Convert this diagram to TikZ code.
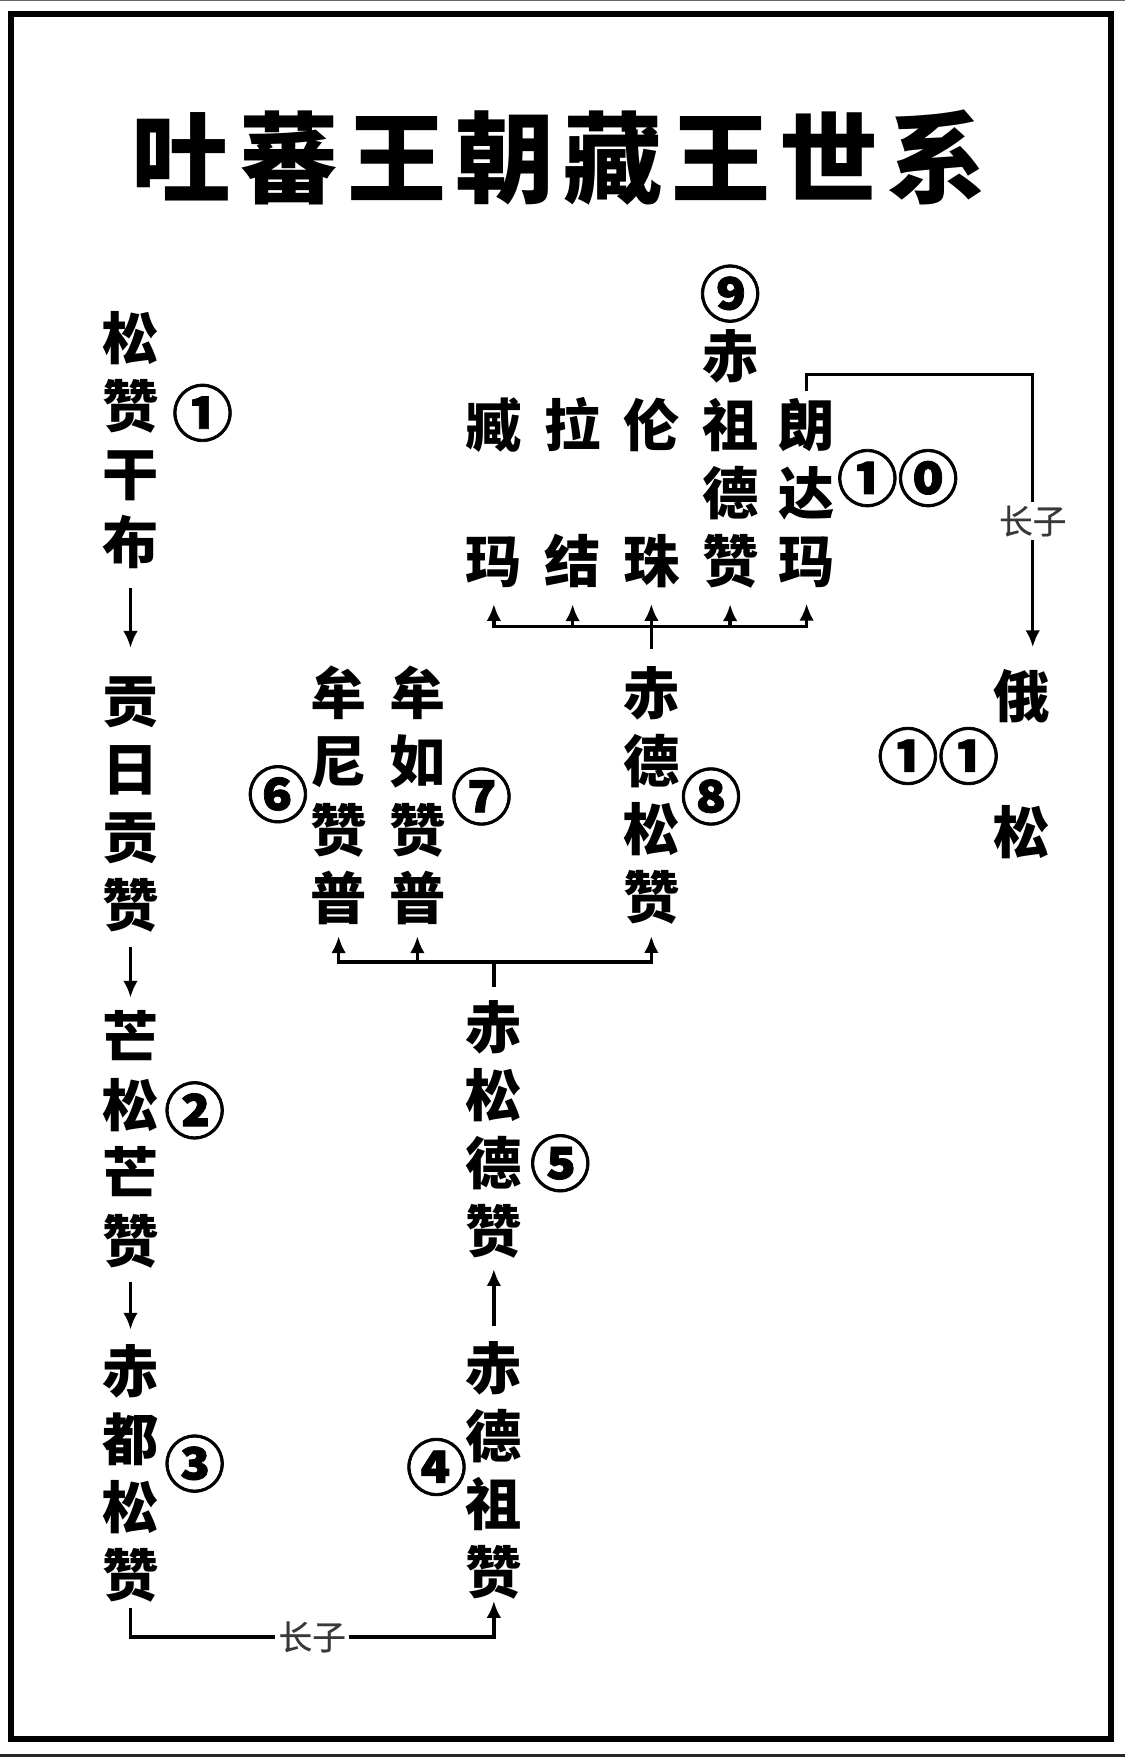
\documentclass[tikz,border=0pt]{standalone}
\usepackage{fontspec}
\usetikzlibrary{arrows.meta}
\newfontfamily\cjk{Noto Sans CJK SC}

\tikzset{
  king/.style={font=\cjk\bfseries\fontsize{25}{30.25}\selectfont, align=center, inner sep=0pt},
  ord/.style={font=\cjk\bfseries\fontsize{27}{27}\selectfont\addfontfeature{FakeBold=1.2}, inner sep=0pt},
  heir/.style={font=\cjk\fontsize{15}{16}\selectfont\addfontfeature{FakeBold=0.4}, text=black!78, fill=white, inner sep=1.5pt},
  arr/.style={-{Latex[length=7.5pt,width=6.5pt]}},
}

\begin{document}
\begin{tikzpicture}[x=0.5pt, y=-0.5pt, line width=1.45pt]
    \useasboundingbox (0,0) rectangle (1000,1561.8);
    \fill[white] (0,0) rectangle (1000,1561.8);
    \fill[black!60] (0,0) rectangle (1000,1);
    \fill[black!85] (0,1559) rectangle (1000,1561.8);
    \draw[line width=2.67pt] (10.2,12.4) rectangle (987.6,1545.8);

    \node[font=\cjk\bfseries\fontsize{44}{44}\selectfont\addfontfeature{LetterSpace=9}] (T) at (497,140) {吐蕃王朝藏王世系};

    \node[king] (K1)  at (116, 391) {松\\赞\\干\\布};
    \node[king] (K2)  at (116, 715) {贡\\日\\贡\\赞};
    \node[king] (K3)  at (116,1013) {芒\\松\\芒\\赞};
    \node[king] (K4)  at (116,1310) {赤\\都\\松\\赞};
    \node[king] (K5)  at (439,1307) {赤\\德\\祖\\赞};
    \node[king] (K6)  at (439,1004) {赤\\松\\德\\赞};
    \node[king] (K7)  at (301, 707) {牟\\尼\\赞\\普};
    \node[king] (K8)  at (371, 707) {牟\\如\\赞\\普};
    \node[king] (K9)  at (579, 707) {赤\\德\\松\\赞};
    \node[king] (K10) at (439, 438) {臧\\[30.25pt]玛};
    \node[king] (K11) at (509, 438) {拉\\[30.25pt]结};
    \node[king] (K12) at (579, 438) {伦\\[30.25pt]珠};
    \node[king] (K13) at (649, 408) {赤\\祖\\德\\赞};
    \node[king] (K14) at (717, 438) {朗\\达\\玛};
    \node[king] (K15) at (908, 679) {俄\\[30.25pt]松};

    \node[ord] (N1)  at (180, 367) {①};
    \node[ord] (N2)  at (173, 987) {②};
    \node[ord] (N3)  at (173,1301) {③};
    \node[ord] (N4)  at (388,1304) {④};
    \node[ord] (N5)  at (498,1034) {⑤};
    \node[ord] (N6)  at (247, 706) {⑥};
    \node[ord] (N7)  at (428, 708) {⑦};
    \node[ord] (N8)  at (632, 708) {⑧};
    \node[ord] (N9)  at (649, 261) {⑨};
    \node[ord] (N10) at (798, 425) {①⓪};
    \node[ord] (N11) at (834, 672) {①①};

    \coordinate (B1) at (116,1455);
    \coordinate (B2) at (439,1455);
    \coordinate (R1) at (918, 333);
    \coordinate (J1) at (439, 855);
    \coordinate (J2) at (579, 557);

    \draw[arr, shorten <=8pt, shorten >=12pt] (K1) -- (K2);
    \draw[arr, shorten <=6pt, shorten >=5pt] (K2) -- (K3);
    \draw[arr, shorten <=5pt, shorten >=6pt] (K3) -- (K4);
    \draw[arr, shorten <=6pt, shorten >=4pt] (K5) -- (K6);
    \draw[arr, shorten <=1.5pt] (K4) -- (B1) -- node[heir] {长子} (B2) -- (K5);
    \draw[arr, shorten <=2.5pt, shorten >=9pt] (K14.north) |- (R1) -- node[heir] {长子} (R1 |- K15.north);

    \draw[shorten <=5.5pt] (K6) -- (J1);
    \foreach \k in {K7,K8,K9}
      \draw[arr, shorten >=4.5pt] (J1) -| (\k);
    \draw[shorten <=7pt] (K9) -- (J2);
    \foreach \k in {K10,K11,K12,K13,K14}
      \draw[arr, shorten >=6.5pt] (J2) -| (\k);
\end{tikzpicture}
\end{document}
